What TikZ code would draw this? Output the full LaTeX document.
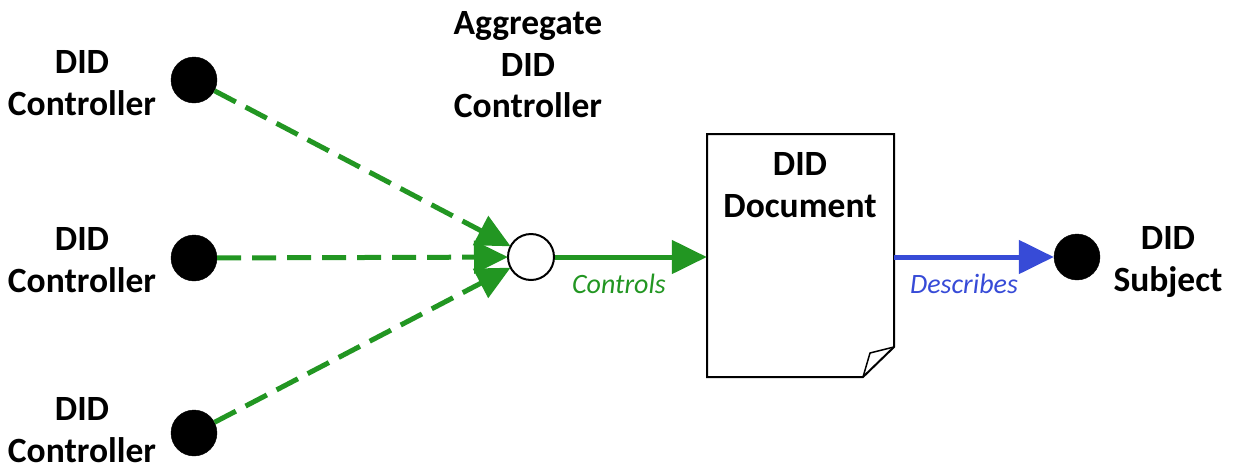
\documentclass[tikz,border=0pt]{standalone}
\usepackage{fontspec}
\setmainfont{Carlito}
\usetikzlibrary{arrows.meta}
\definecolor{dgreen}{RGB}{34,150,34}
\definecolor{dblue}{RGB}{55,75,215}
\begin{document}
\begin{tikzpicture}[x=1pt,y=-1pt,
  lbl/.style={font=\fontsize{35.5}{41.5}\selectfont\bfseries, align=center, inner sep=0},
  dot/.style={circle, fill=black, draw=black, minimum size=46pt, inner sep=0},
  hollow/.style={circle, fill=white, draw=black, line width=2pt, minimum size=46pt, inner sep=0},
  ctl/.style={dgreen, line width=5pt, dash pattern=on 24pt off 11pt, -{Triangle[length=34pt,width=32pt]}, shorten >=-1pt},
  solidg/.style={dgreen, line width=5pt, -{Triangle[length=35pt,width=33pt]}},
  solidb/.style={dblue, line width=5pt, -{Triangle[length=35pt,width=33pt]}},
  elab/.style={font=\fontsize{28}{32}\selectfont\itshape, inner sep=0}
]
\useasboundingbox (0,0) rectangle (1234,472);
% controllers
\node[dot] (c1) at (194,80) {};
\node[dot] (c2) at (194,258) {};
\node[dot] (c3) at (194,433) {};
\node[lbl] (t1) at (82,83) {DID\\Controller};
\node[lbl] (t2) at (82,260) {DID\\Controller};
\node[lbl] (t3) at (82,430) {DID\\Controller};
% aggregate
\node[hollow] (agg) at (531,257) {};
\node[lbl] (ta) at (528,65) {Aggregate\\DID\\Controller};
% document
\coordinate (dtl) at (707,134);
\coordinate (dtr) at (894,134);
\coordinate (dbl) at (707,377);
\coordinate (dbr1) at (863,377);
\coordinate (dbr2) at (894,347);
\coordinate (dfold) at (870,353);
\draw[line width=2pt, fill=white, line join=miter] (dtl) -- (dtr) -- (dbr2) -- (dbr1) -- (dbl) -- cycle;
\draw[line width=1.5pt, line join=round] (dbr1) -- (dfold) -- (dbr2);
\node (doc) at (800.5,257) [minimum width=187pt, minimum height=243pt, inner sep=0] {};
\node[lbl] (td) at (800,185) {DID\\Document};
% subject
\node[dot] (s) at (1077,257) {};
\node[lbl] (ts) at (1168,262) {DID\\Subject};
% connectors
\draw[ctl] (c1) -- (agg);
\draw[ctl] (c2) -- (agg);
\draw[ctl] (c3) -- (agg);
\draw[solidg] (agg) -- (doc.west);
\draw[solidb] (doc.east) -- (s);
\node[elab, text=dgreen] (lc) at (619,284) {Controls};
\node[elab, text=dblue] (lb) at (964,284) {Describes};
\end{tikzpicture}
\end{document}
